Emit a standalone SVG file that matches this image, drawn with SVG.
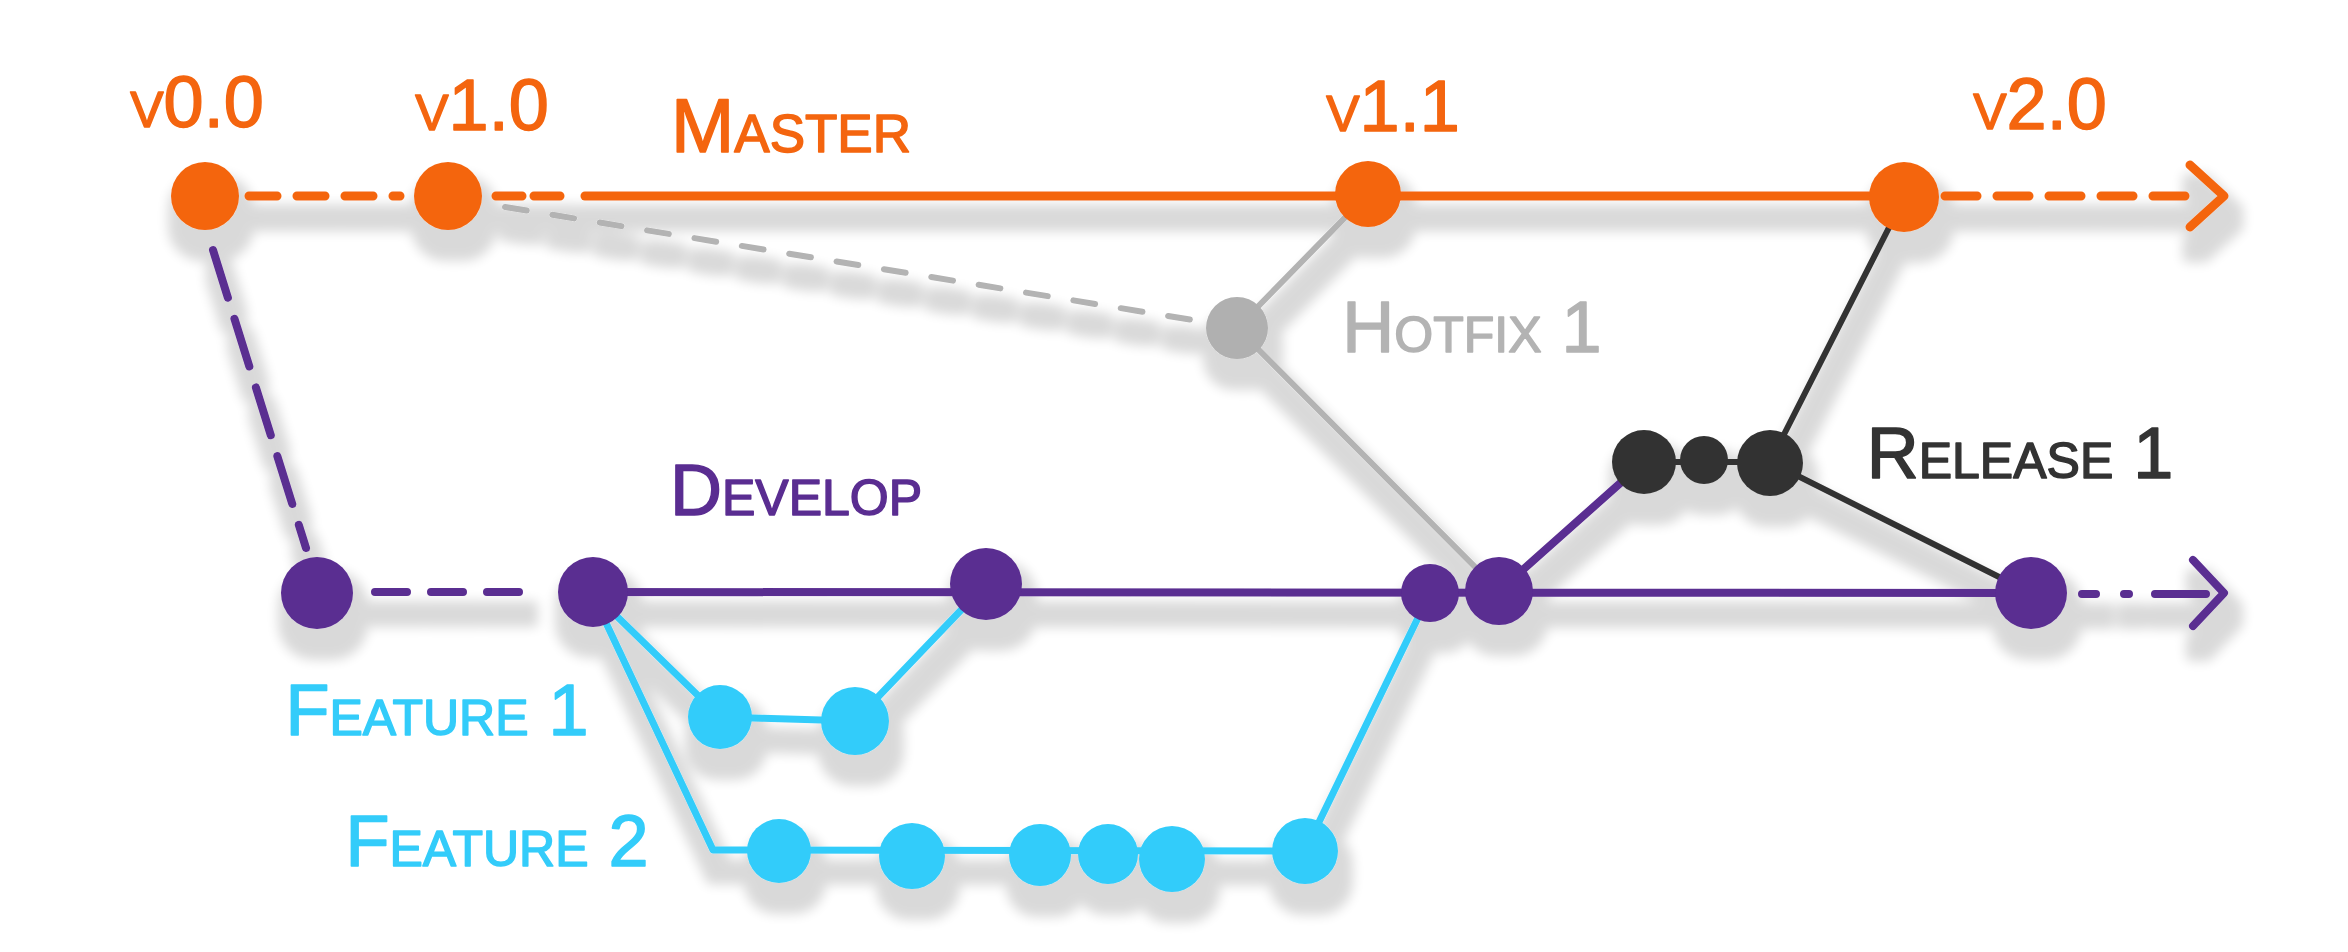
<svg xmlns="http://www.w3.org/2000/svg" width="2348" height="952" viewBox="0 0 2348 952">
<style>
.lbl{font-family:"Liberation Sans","DejaVu Sans",sans-serif;font-size:72px;font-variant:small-caps;text-anchor:middle;stroke-width:1.5;stroke-linejoin:round}
.or{fill:#f4650f;stroke:#f4650f}
.pu{fill:#5a2d91;stroke:#5a2d91}
.bl{fill:#33ccfa;stroke:#33ccfa}
.gr{fill:#b3b3b3;stroke:#b3b3b3}
.bk{fill:#333333;stroke:#333333}
.c{fill:none;stroke-linecap:round;stroke-linejoin:round}
.cm{stroke:#f4650f;stroke-width:9}
.cp{stroke:#5a2d91;stroke-width:8}
.cb{stroke:#33ccfa;stroke-width:7}
.cg{stroke:#b3b3b3;stroke-width:6}
.ck{stroke:#333333;stroke-width:6}
.nm{fill:#f4650f}
.np{fill:#5a2d91}
.nb{fill:#33ccfa}
.ng{fill:#b0b0b0}
.nk{fill:#333333}
</style>
<defs>
<filter id="shadow" filterUnits="userSpaceOnUse" x="0" y="0" width="2348" height="952">
<feMorphology in="SourceAlpha" operator="dilate" radius="9" result="d"/>
<feOffset in="d" dx="6" dy="22" result="o"/>
<feGaussianBlur in="o" stdDeviation="6" result="b"/>
<feComponentTransfer in="b" result="s"><feFuncA type="linear" slope="0.15"/></feComponentTransfer>
<feMerge><feMergeNode in="s"/><feMergeNode in="SourceGraphic"/></feMerge>
</filter>
</defs>
<rect width="2348" height="952" fill="#ffffff"/>
<g filter="url(#shadow)">
<g id="connectors">
<path class="c cm" d="M249 196 L400 196" stroke-dasharray="28 20"/>
<path class="c cm" d="M496 196 L562 196" stroke-dasharray="26 12"/>
<path class="c cm" d="M585 196 L1903 196"/>
<path class="c cm" d="M1945 196 L2200 196" stroke-dasharray="32 20"/>
<path class="c cm" d="M2190 165 L2224 196 L2190 227"/>
<path class="c cp" d="M213 250 L306 548" stroke-dasharray="50 22"/>
<path class="c cp" d="M375 592 L525 592" stroke-dasharray="32 24"/>
<path class="c cp" d="M591 592 L2031 593"/>
<path class="c cp" d="M2082 594 L2096 594 M2124 594 L2129 594 M2155 594 L2206 594"/>
<path class="c cp" d="M2193 560 L2224 593 L2193 626"/>
<path class="c cg" d="M505 207 L1205 322" stroke-dasharray="22 26"/>
<path class="c cg" d="M1237 328 L1367 195"/>
<path class="c cg" d="M1237 328 L1499 591"/>
<path class="c cp" d="M1499 591 L1644 462"/>
<path class="c ck" d="M1644 462 L1770 462"/>
<path class="c ck" d="M1770 462 L1904 198"/>
<path class="c ck" d="M1770 462 L2031 593"/>
<path class="c cb" d="M591 591 L720 717 L855 721 L986 584"/>
<path class="c cb" d="M591 591 L713 850 L1305 851 L1430 593"/>
</g>
<g id="node-v0-0"><circle class="nm" cx="205" cy="196" r="34"/></g>
<g id="node-v1-0"><circle class="nm" cx="448" cy="196" r="34"/></g>
<g id="node-v1-1"><circle class="nm" cx="1368" cy="194" r="33"/></g>
<g id="node-v2-0"><circle class="nm" cx="1904" cy="197" r="35"/></g>
<g id="node-hotfix"><circle class="ng" cx="1237" cy="328" r="31"/></g>
<g id="node-dev-1"><circle class="np" cx="317" cy="593" r="36"/></g>
<g id="node-dev-2"><circle class="np" cx="593" cy="592" r="35"/></g>
<g id="node-dev-3"><circle class="np" cx="986" cy="584" r="36"/></g>
<g id="node-dev-4"><circle class="np" cx="1430" cy="593" r="29"/></g>
<g id="node-dev-5"><circle class="np" cx="1499" cy="591" r="34"/></g>
<g id="node-dev-6"><circle class="np" cx="2031" cy="593" r="36"/></g>
<g id="node-rel-1"><circle class="nk" cx="1644" cy="462" r="32"/></g>
<g id="node-rel-2"><circle class="nk" cx="1704" cy="460" r="24"/></g>
<g id="node-rel-3"><circle class="nk" cx="1770" cy="463" r="33"/></g>
<g id="node-f1-1"><circle class="nb" cx="720" cy="717" r="32"/></g>
<g id="node-f1-2"><circle class="nb" cx="855" cy="721" r="34"/></g>
<g id="node-f2-1"><circle class="nb" cx="779" cy="851" r="32"/></g>
<g id="node-f2-2"><circle class="nb" cx="912" cy="856" r="33"/></g>
<g id="node-f2-3"><circle class="nb" cx="1040" cy="855" r="31"/></g>
<g id="node-f2-4"><circle class="nb" cx="1108" cy="854" r="30"/></g>
<g id="node-f2-5"><circle class="nb" cx="1172" cy="859" r="33"/></g>
<g id="node-f2-6"><circle class="nb" cx="1305" cy="851" r="33"/></g>
</g>
<g id="labels">
<text class="lbl or" x="197" y="127">v0.0</text>
<text class="lbl or" x="482" y="130">v1.0</text>
<text class="lbl or" x="1393" y="131">v1.1</text>
<text class="lbl or" x="2040" y="129">v2.0</text>
<text class="lbl or" x="791" y="152" style="font-size:76px">Master</text>
<text class="lbl gr" x="1472" y="352">Hotfix 1</text>
<text class="lbl pu" x="796" y="515">Develop</text>
<text class="lbl bk" x="2020" y="478">Release 1</text>
<text class="lbl bl" x="437" y="735">Feature 1</text>
<text class="lbl bl" x="497" y="866">Feature 2</text>
</g>
</svg>
